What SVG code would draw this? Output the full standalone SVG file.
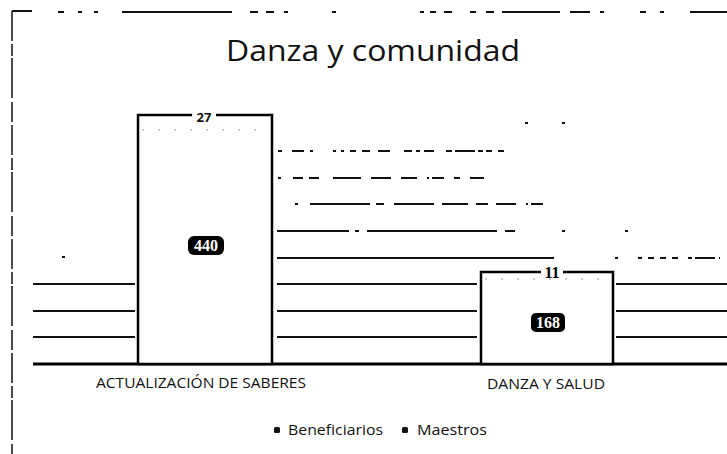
<svg xmlns="http://www.w3.org/2000/svg" width="727" height="454" viewBox="0 0 727 454">
<style>
.grid{stroke:#111;stroke-width:2;fill:none}
.bar{fill:#fff;stroke:#000;stroke-width:2.5}
.seg{stroke:#999;stroke-width:1;stroke-dasharray:2 14}
.lab{font-family:"Open Sans","Liberation Sans",Arial,sans-serif;fill:#111}
.val{font-family:"Liberation Serif","Times New Roman",serif;font-weight:bold;font-size:16px;text-anchor:middle}
</style>
<rect width="727" height="454" fill="#fff"/>
<g id="frame" stroke="#111" fill="none">
<path d="M12 11 H32 M58 12 H64 M78 12 H82 M94 12 H98 M122 12 H232 M250 12 H258 M266 12 H274 M284 12 H288 M332 12 H336 M420 12 H424 M430 12 H436 M444 12 H452 M470 12 H476 M486 12 H494 M502 12 H560 M570 12 H590 M600 12 H604 M640 12 H646 M660 12 H664 M690 12 H727" stroke-width="2"/>
<path d="M12 11 V454" stroke-width="1.5" stroke-dasharray="30 3 12 2 40 4 20 3"/>
</g>
<text id="title" class="lab" x="373" y="61" font-size="29" text-anchor="middle" textLength="294" lengthAdjust="spacingAndGlyphs">Danza y comunidad</text>
<g id="gridlines">
<path class="grid" d="M278 151 H512" stroke-dasharray="4 10 12 6 3 20 3 5 3 6 6 6 8 8 12 14 8 4 4" stroke-width="1.8"/>
<path class="grid" d="M278 178 H510" stroke-dasharray="3 12 10 6 10 14 28 10 20 10 16 10 2" stroke-width="1.8"/>
<path class="grid" d="M295 204 H558" stroke-dasharray="3 12 60 6 8 10 40 8 26 8 12 8 20 10 2" stroke-width="1.8"/>
<path class="grid" d="M277 231 H536" stroke-dasharray="72 6 4 8 130 8 10"/>
<path class="grid" d="M562 231 H565 M625 231 H628"/>
<path class="grid" d="M277 258 H554"/>
<path class="grid" d="M615 258 H720" stroke-dasharray="3 20 4 6 6 6 6 6 6 10 4"/>
<path class="grid" d="M525 123 H528 M562 123 H565 M62 257 H65"/>
<path class="grid" d="M33 284 H135 M277 284 H477 M616 284 H727"/>
<path class="grid" d="M33 311 H135 M277 311 H477 M616 311 H727"/>
<path class="grid" d="M33 337 H135 M277 337 H477 M616 337 H727"/>
<path id="axis" d="M33 364 H727" stroke="#000" stroke-width="3"/>
</g>
<g id="bar-actualizacion">
<rect class="bar" x="138" y="115" width="134" height="249"/>
<line class="seg" x1="142" y1="130" x2="268" y2="130"/>
<rect x="192" y="110" width="24" height="13" fill="#fff"/>
<text class="lab" x="204" y="122" font-size="13" font-weight="bold" text-anchor="middle">27</text>
<rect x="188" y="236" width="36" height="19" rx="6" fill="#000"/>
<text class="val" x="206" y="251" fill="#fff">440</text>
</g>
<g id="bar-danza-salud">
<rect class="bar" x="481" y="272" width="132" height="92"/>
<line class="seg" x1="485" y1="279" x2="609" y2="279"/>
<rect x="541" y="265" width="22" height="13" fill="#fff"/>
<text class="val" x="552" y="278" fill="#000">11</text>
<rect x="531" y="313" width="34" height="19" rx="5" fill="#000"/>
<text class="val" x="548" y="328" fill="#fff">168</text>
</g>
<g id="categories" class="lab" font-size="14" text-anchor="middle">
<text x="201" y="388" textLength="210" lengthAdjust="spacingAndGlyphs">ACTUALIZACIÓN DE SABERES</text>
<text x="546" y="389" textLength="118" lengthAdjust="spacingAndGlyphs">DANZA Y SALUD</text>
</g>
<g id="legend" class="lab" font-size="14">
<rect x="274" y="427" width="6" height="6" rx="1.5" fill="#111"/>
<text x="288" y="435" textLength="95" lengthAdjust="spacingAndGlyphs">Beneficiarios</text>
<rect x="402" y="427" width="6" height="6" rx="1.5" fill="#111"/>
<text x="417" y="435" textLength="70" lengthAdjust="spacingAndGlyphs">Maestros</text>
</g>
</svg>
